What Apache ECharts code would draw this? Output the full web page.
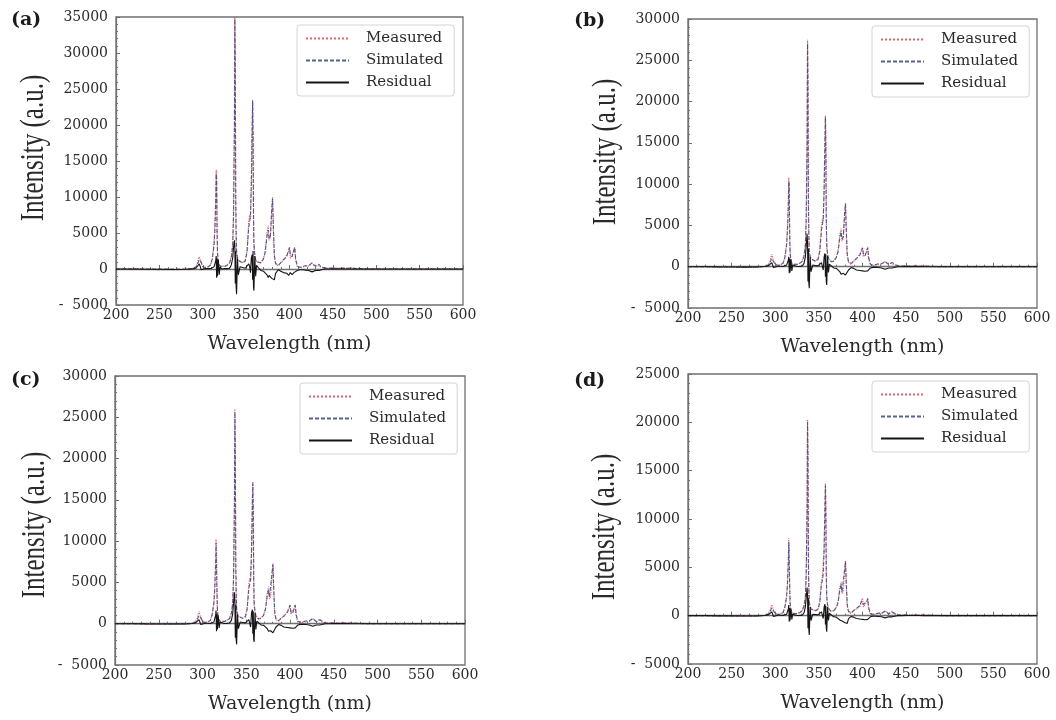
<!DOCTYPE html>
<html>
<head>
<meta charset="utf-8">
<script src="https://cdn.jsdelivr.net/npm/echarts@6/dist/echarts.min.js"></script>
<style>
  html, body { margin: 0; padding: 0; background: #fff; }
  #chart { width: 1056px; height: 720px; }
</style>
</head>
<body>
<div id="chart"></div>
<script>
// Wavelength sampling (nm), denser around the N2 band heads
const wavelength = [
  200,220,235,250,265,280,288,292,294,296,
  297,298,300,303,306,309,311,313,314,315,
  315.5,316,316.5,317,318,319,320,322,325,328,
  331,333,334.5,335.5,336.5,337,337.5,338,338.5,339,
  340,341,343,346,349,351,353,354,355,356,
  357,357.5,358,358.5,359,360,361,362,364,367,
  370,372,374,375.5,376.5,378,379.5,380.5,381.5,382.5,
  384,387,390,393,395,397,399,400,401,403,
  405,406,407,409,412,415,418,420,422,424,
  426,427,428,430,432,434,436,440,445,450,
  455,460,465,470,480,500,550,600
];

// Panel (a)
const measuredA = [
  0,0,-60,-80,-100,-60,50,300,900,1700,
  1600,900,400,250,300,600,1500,3500,6000,10000,
  13800,12000,5000,2000,700,500,400,350,400,550,
  900,1800,3500,8000,20000,35000,28000,9000,4000,2000,
  1500,1200,1000,900,1200,2500,6500,7500,7000,12000,
  20000,23500,18000,7000,3000,1800,1300,1000,800,900,
  1500,2500,5000,6000,4000,4500,8000,10000,5000,1500,
  700,400,900,1200,1500,1600,2500,3000,1500,1600,
  2500,3000,1200,300,200,250,400,600,400,500,
  800,1000,500,300,500,700,300,150,100,150,
  100,150,100,150,50,0,0,0
];
const simulatedA = [
  0,0,0,0,0,10,30,200,700,1300,
  1500,1000,300,200,250,550,1400,3300,5600,9500,
  13200,12800,5500,2500,800,600,400,350,350,500,
  850,1700,3200,7500,19500,34700,29000,10500,5000,2500,
  1600,1200,1000,850,1100,2300,5800,6500,7500,11800,
  19800,23300,19000,8000,3500,2000,1300,1000,750,850,
  1400,2300,4500,5400,4200,4600,8300,9800,5500,2000,
  800,500,900,1300,1500,1800,2600,3000,2000,1700,
  2600,3000,1500,400,250,300,450,650,450,550,
  850,1000,600,350,500,650,350,150,100,120,
  80,120,80,100,30,0,0,0
];
const residualA = [
  0,0,-30,-40,-60,-40,20,100,300,700,
  400,-100,100,50,50,50,150,300,700,1200,
  1800,-1200,1500,-1000,1300,-800,300,0,50,50,
  100,600,1500,3000,4000,3000,-2000,2500,-2500,-3500,
  1500,-800,300,200,100,300,700,400,-500,1500,
  2000,-1500,2500,-2500,-3000,1800,-1000,500,200,-200,
  -300,-500,-800,-1200,-900,-1000,-1300,-1500,-1200,-1500,
  -600,-100,-300,-500,-700,-600,-900,-700,-500,-800,
  -500,-700,-400,-200,-100,-100,-150,-300,-200,-300,
  -400,-300,-400,-200,-100,-200,-100,0,0,20,
  10,20,10,0,0,0,0,0
];

// Panel (b)
const measuredB = [
  0,0,-40,-60,-80,-50,40,250,700,1500,
  1300,700,300,200,250,450,1200,2700,4700,7800,
  10800,9400,3900,1600,550,400,300,280,300,430,
  700,1400,2700,6200,15600,27500,21800,7000,3100,1600,
  1200,950,800,700,950,2000,5000,5800,5500,9400,
  15600,18300,14000,5500,2300,1400,1000,800,650,700,
  1200,1900,3900,4600,3100,3500,6200,7700,3900,1200,
  550,300,700,950,1200,1250,2000,2300,1200,1250,
  1900,2400,950,250,150,200,300,450,300,400,
  650,800,400,250,400,550,250,120,80,120,
  80,120,80,110,40,0,0,0
];
const simulatedB = [
  0,0,0,0,0,10,20,150,550,1000,
  1150,800,250,150,200,430,1100,2600,4400,7400,
  10300,10000,4300,1950,650,450,300,280,280,400,
  650,1300,2500,5800,15200,27000,22600,8200,3900,1950,
  1250,950,800,650,850,1800,4500,5000,5800,9200,
  15400,18100,14800,6200,2700,1550,1000,800,600,650,
  1100,1800,3500,4200,3300,3600,6500,7600,4300,1550,
  600,400,700,1000,1200,1400,2000,2300,1550,1300,
  2000,2300,1150,300,200,250,350,500,350,430,
  650,800,450,270,400,500,270,120,80,100,
  60,90,60,80,20,0,0,0
];
const residualB = [
  0,0,-20,-30,-50,-30,20,100,200,500,
  300,-100,50,50,50,30,100,200,400,800,
  1200,-800,1000,-700,900,-500,200,0,30,40,
  80,400,1200,2500,4000,2800,-1800,2200,-2000,-2600,
  1200,-600,200,150,100,200,500,300,-400,1200,
  1600,-1200,1500,-1800,-2200,1300,-700,300,150,-150,
  -200,-400,-600,-900,-700,-800,-900,-1000,-900,-1100,
  -400,-100,-200,-400,-500,-450,-600,-500,-400,-550,
  -400,-500,-300,-150,-80,-80,-100,-200,-150,-200,
  -300,-250,-300,-150,-80,-150,-80,0,0,20,
  10,20,10,0,0,0,0,0
];

// Panel (c)
const measuredC = [
  0,0,-40,-60,-70,-50,40,250,700,1500,
  1300,700,300,200,250,450,1100,2600,4500,7400,
  10300,9000,3700,1500,550,400,300,280,300,420,
  680,1350,2600,5900,14800,26000,20600,6700,3000,1500,
  1150,900,750,680,900,1900,4800,5500,5200,8800,
  14700,17200,13200,5200,2200,1350,950,750,600,680,
  1150,1850,3700,4500,3000,3300,5900,7300,3700,1150,
  520,300,680,900,1150,1200,1900,2300,1150,1200,
  1850,2300,900,230,150,190,300,450,300,380,
  620,780,380,230,380,530,230,110,80,110,
  80,110,80,100,40,0,0,0
];
const simulatedC = [
  0,0,0,0,0,10,20,150,550,1000,
  1100,750,230,150,190,400,1050,2500,4200,7100,
  9800,9600,4100,1850,620,430,300,270,270,390,
  630,1250,2400,5500,14400,25600,21400,7800,3700,1850,
  1200,900,750,630,820,1750,4300,4800,5500,8600,
  14500,17000,14000,5900,2600,1500,950,750,580,630,
  1050,1750,3400,4100,3200,3400,6200,7200,4100,1500,
  580,380,680,950,1150,1350,1950,2250,1500,1250,
  1950,2250,1100,290,190,240,330,480,330,410,
  630,780,430,260,380,490,260,110,80,100,
  60,90,60,80,20,0,0,0
];
const residualC = [
  0,0,-20,-30,-40,-30,20,100,200,500,
  300,-100,50,50,50,30,100,200,400,1000,
  1600,-900,1200,-700,1000,-500,200,0,30,40,
  80,400,1200,2500,3800,2700,-1700,2300,-1900,-2500,
  1100,-600,200,150,100,200,500,300,-400,1300,
  1700,-1200,1500,-1900,-2200,1300,-700,300,150,-150,
  -200,-400,-600,-900,-700,-850,-950,-1100,-900,-1000,
  -400,-100,-200,-400,-500,-450,-650,-500,-400,-550,
  -400,-500,-300,-150,-80,-80,-100,-200,-150,-200,
  -300,-250,-300,-150,-80,-150,-80,0,0,20,
  10,20,10,0,0,0,0,0
];

// Panel (d)
const measuredD = [
  0,0,-30,-40,-60,-40,30,200,550,1150,
  1050,550,250,150,200,350,900,2000,3500,5800,
  8000,7000,2900,1200,420,300,230,220,230,330,
  530,1050,2000,4600,11500,20300,16100,5200,2300,1200,
  900,700,580,530,700,1450,3700,4000,4000,7000,
  11700,13700,10500,4100,1700,1050,750,580,470,530,
  880,1450,2900,3500,2300,2600,4600,5700,2900,900,
  400,230,530,700,900,950,1500,1800,900,950,
  1450,1800,700,180,120,150,230,350,230,300,
  480,600,300,180,300,420,180,90,60,90,
  60,90,60,80,30,0,0,0
];
const simulatedD = [
  0,0,0,0,0,10,20,120,420,800,
  900,600,180,120,150,320,850,1950,3300,5600,
  7600,7500,3200,1450,480,330,230,210,210,300,
  500,1000,1850,4300,11200,20000,16700,6000,2800,1450,
  950,700,580,500,640,1350,3300,3600,4300,6800,
  11500,13500,11000,4600,2000,1150,750,580,450,500,
  820,1350,2650,3200,2450,2650,4800,5600,3200,1150,
  450,300,530,740,900,1050,1550,1750,1150,1000,
  1500,1750,850,230,150,190,260,380,260,320,
  490,600,340,200,300,380,200,90,60,80,
  50,70,50,60,20,0,0,0
];
const residualD = [
  0,0,-20,-20,-30,-20,10,80,150,400,
  250,-80,40,40,40,30,80,150,300,700,
  1100,-620,800,-500,700,-400,150,0,20,30,
  60,300,900,1900,2900,2100,-1300,1800,-1500,-2000,
  900,-500,150,120,80,150,400,250,-300,900,
  1200,-900,1000,-1300,-1650,900,-500,250,120,-120,
  -150,-300,-450,-650,-550,-650,-700,-800,-700,-800,
  -300,-80,-150,-300,-380,-350,-480,-380,-300,-420,
  -300,-380,-230,-120,-60,-60,-80,-150,-120,-150,
  -230,-200,-230,-120,-60,-120,-60,0,0,15,
  10,15,10,0,0,0,0,0
];

// Axis ranges and labels
const panelLabels = ['(a)', '(b)', '(c)', '(d)'];
const intensityMax = [35000, 30000, 30000, 25000];
const intensityMin = -5000;
const intensityStep = 5000;
const wavelengthRange = [200, 600];
const wavelengthStep = 50;
const seriesNames = ['Measured', 'Simulated', 'Residual'];
const xAxisTitle = 'Wavelength (nm)';
const yAxisTitle = 'Intensity (a.u.)';

const panelData = [
  [measuredA, simulatedA, residualA],
  [measuredB, simulatedB, residualB],
  [measuredC, simulatedC, residualC],
  [measuredD, simulatedD, residualD]
];

// Layout of the four panels
const layout = [
  { grid: { left: 116, top: 17, width: 347, height: 288 }, legend: { left: 297, top: 25 }, tag: { left: 11, top: 11 }, yTitle: [34, 148] },
  { grid: { left: 688, top: 19, width: 349, height: 289 }, legend: { left: 872, top: 26 }, tag: { left: 574, top: 12 }, yTitle: [606, 152] },
  { grid: { left: 115, top: 376, width: 350, height: 289 }, legend: { left: 300, top: 383 }, tag: { left: 11, top: 371 }, yTitle: [35, 525] },
  { grid: { left: 688, top: 374, width: 349, height: 290 }, legend: { left: 872, top: 381 }, tag: { left: 574, top: 372 }, yTitle: [605, 527] }
];

const SERIF = '"DejaVu Serif", "Liberation Serif", serif';
const TEXT = '#2a2a2a';
const FRAME = '#707070';

const lineStyles = [
  { color: 'rgba(214, 60, 70, 0.8)', width: 1.2, type: 'dotted' },
  { color: 'rgba(55, 70, 130, 0.85)', width: 1.1, type: [4, 2] },
  { color: '#151515', width: 1.1, type: 'solid' }
];

const grids = [], xAxes = [], yAxes = [], series = [], legends = [], graphics = [];

layout.forEach((lay, p) => {
  grids.push(Object.assign({
    show: true, borderColor: FRAME, borderWidth: 1.3, backgroundColor: '#fff'
  }, lay.grid));

  xAxes.push({
    type: 'value', gridIndex: p,
    min: wavelengthRange[0], max: wavelengthRange[1], interval: wavelengthStep,
    axisLine: { show: true, lineStyle: { color: FRAME, width: 1.3 } },
    axisTick: { show: true, inside: true, length: 4, lineStyle: { color: FRAME } },
    minorTick: { show: true, splitNumber: 5, length: 2, lineStyle: { color: FRAME } },
    splitLine: { show: false },
    axisLabel: { color: TEXT, fontFamily: SERIF, fontSize: 14, margin: 3 },
    name: xAxisTitle, nameLocation: 'middle', nameGap: 30,
    nameTextStyle: { color: TEXT, fontFamily: SERIF, fontSize: 19 }
  });

  yAxes.push({
    type: 'value', gridIndex: p,
    min: intensityMin, max: intensityMax[p], interval: intensityStep,
    axisLine: { show: true, lineStyle: { color: FRAME, width: 1.3 } },
    axisTick: { show: true, inside: true, length: 4, lineStyle: { color: FRAME } },
    minorTick: { show: true, splitNumber: 5, length: 2, lineStyle: { color: FRAME } },
    splitLine: { show: false },
    axisLabel: {
      color: TEXT, fontFamily: SERIF, fontSize: 14, margin: 8,
      formatter: v => (v < 0 ? '-  ' + Math.abs(v) : String(v))
    }
  });

  panelData[p].forEach((values, s) => {
    series.push({
      type: 'line', name: seriesNames[s],
      xAxisIndex: p, yAxisIndex: p,
      data: wavelength.map((w, i) => [w, values[i]]),
      showSymbol: false, symbol: 'none',
      lineStyle: lineStyles[s],
      itemStyle: { color: lineStyles[s].color },
      animation: false, z: 2 + s
    });
  });

  legends.push({
    show: true, orient: 'vertical',
    left: lay.legend.left, top: lay.legend.top,
    data: seriesNames,
    padding: [6, 11, 6, 8],
    itemWidth: 43, itemHeight: 14, itemGap: 7,
    itemStyle: { opacity: 0 },
    backgroundColor: '#fff', borderColor: '#d4d4d4', borderWidth: 1, borderRadius: 3,
    textStyle: { color: TEXT, fontFamily: SERIF, fontSize: 15, padding: [0, 0, 0, 12] },
    selectedMode: false,
    z: 10
  });

  // Panel tag
  graphics.push({
    type: 'text', left: lay.tag.left, top: lay.tag.top,
    style: { text: panelLabels[p], font: 'bold 19px "DejaVu Serif", serif', fill: '#1a1a1a' }
  });

  // Vertical axis title, drawn tall and narrow
  graphics.push({
    type: 'text', x: lay.yTitle[0], y: lay.yTitle[1],
    rotation: Math.PI / 2, scaleY: 1.35,
    style: {
      text: yAxisTitle, font: '25px "Liberation Serif", serif', fill: TEXT,
      align: 'center', verticalAlign: 'middle'
    }
  });
});

const chart = echarts.init(document.getElementById('chart'), null, { renderer: 'canvas' });
chart.setOption({
  animation: false,
  backgroundColor: '#fff',
  grid: grids,
  xAxis: xAxes,
  yAxis: yAxes,
  legend: legends,
  series: series,
  graphic: graphics
});
</script>
</body>
</html>
